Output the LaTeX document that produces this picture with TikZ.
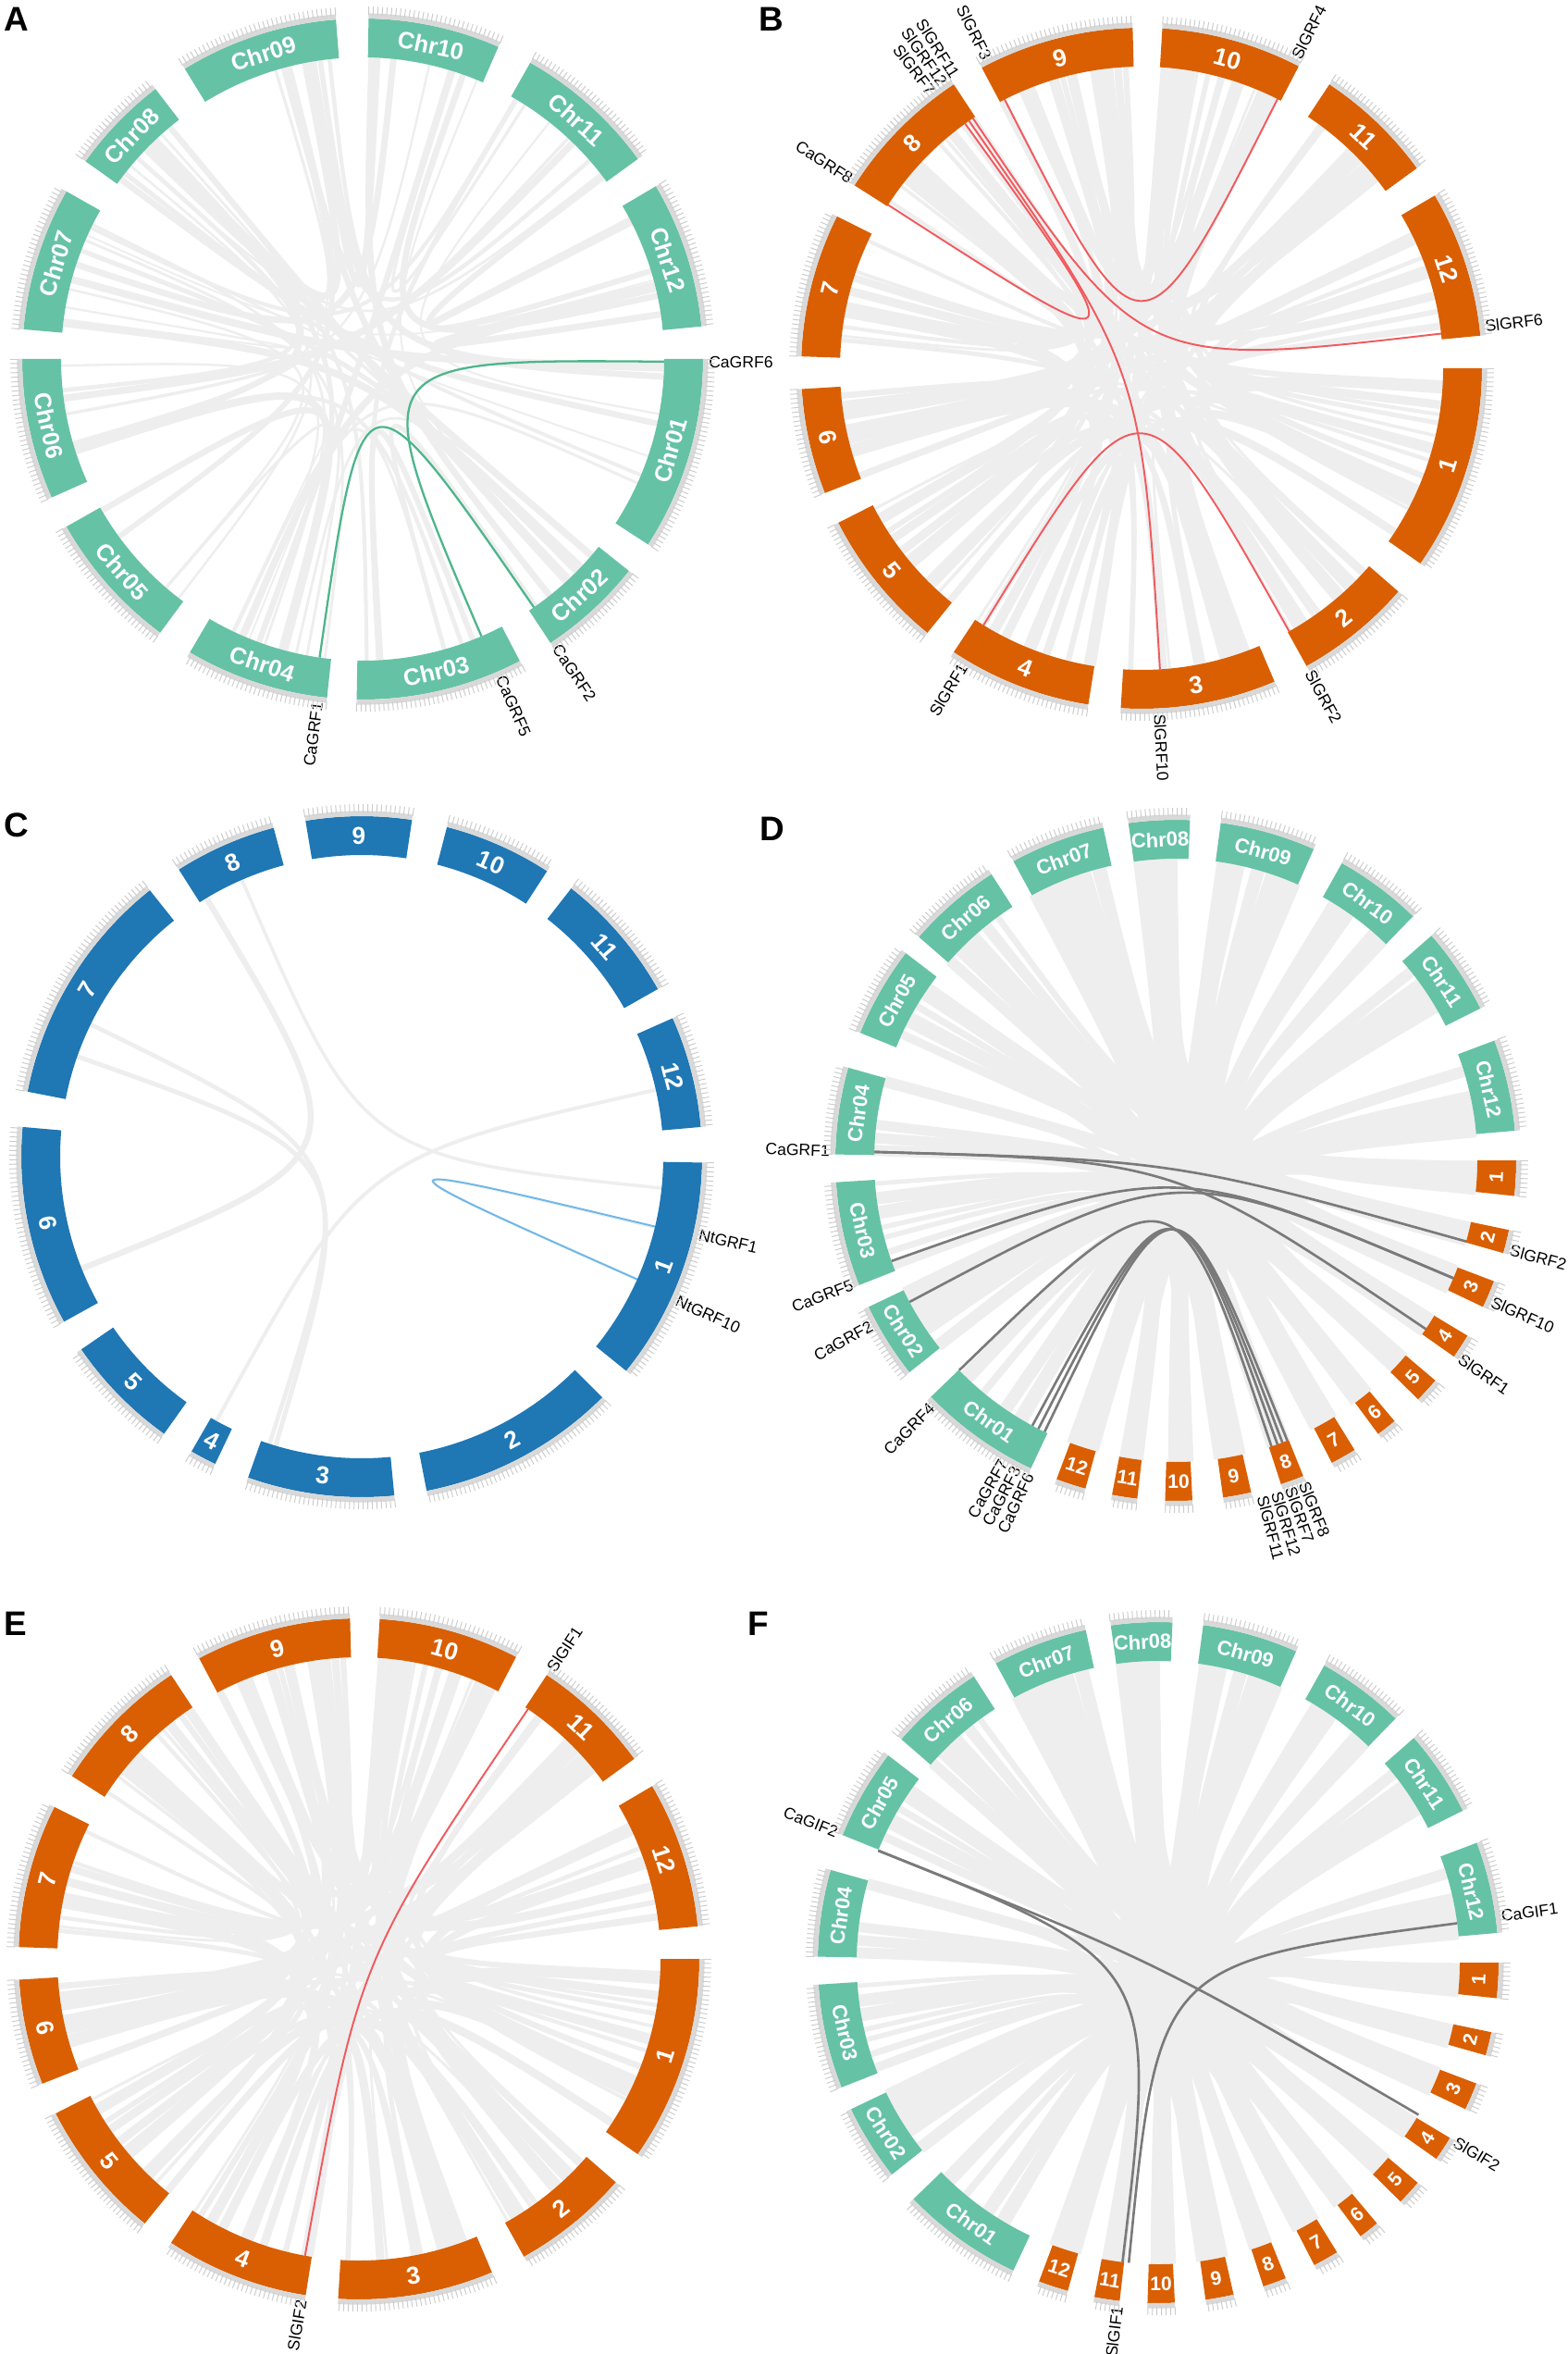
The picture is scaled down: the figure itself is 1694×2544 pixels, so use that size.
\documentclass[tikz,border=0pt]{standalone}
\usepackage{fontspec}
\setmainfont{Liberation Sans}

\definecolor{chrgreen}{HTML}{66C2A5}
\definecolor{chrorange}{HTML}{D95F02}
\definecolor{chrblue}{HTML}{1F77B4}
\definecolor{linkgray}{HTML}{EEEEEE}
\definecolor{tickgray}{HTML}{D9D9D9}
\definecolor{tickdark}{HTML}{CCCCCC}
\definecolor{hlgreen}{HTML}{4DB58C}
\definecolor{hlred}{HTML}{F05A5E}
\definecolor{hlblue}{HTML}{6DB8EA}
\definecolor{hldark}{HTML}{7A7A7A}

\tikzset{
  chrname/.style={text=white,font=\bfseries\fontsize{14.5}{15}\selectfont,inner sep=0pt},
  chrnameS/.style={text=white,font=\bfseries\fontsize{12.5}{13}\selectfont,inner sep=0pt},
  chrnum/.style={text=white,font=\bfseries\fontsize{15}{15}\selectfont,inner sep=0pt},
  chrnumS/.style={text=white,font=\bfseries\fontsize{12}{12}\selectfont,inner sep=0pt},
  genename/.style={font=\fontsize{10}{10}\selectfont,inner sep=0pt},
  panelname/.style={font=\bfseries\fontsize{21}{21}\selectfont,anchor=north west,inner sep=0pt},
  tickband/.style={tickgray,line width=3.2pt},
  tickline/.style={tickdark,line width=0.55pt},
  hlA/.style={hlgreen,line width=1.3pt},
  hlB/.style={hlred,line width=1.1pt},
  hlC/.style={hlblue,line width=1.1pt},
  hlD/.style={hldark,line width=1.5pt},
}

% chromosome band with ticks and name
\newcommand{\chrom}[6]{%
  \fill[#4] (#2:326) arc[start angle=#2,end angle=#3,radius=326] -- (#3:368)
    arc[start angle=#3,end angle=#2,radius=368] -- cycle;
  \draw[tickband] (#2:370.8) arc[start angle=#2,end angle=#3,radius=370.8];
  \pgfmathsetmacro\tkb{#2-0.75}
  \foreach \tk in {#2,\tkb,...,#3} \draw[tickline] (\tk:372) -- (\tk:381);
  \pgfmathsetmacro\chrmid{(#2+#3)/2}
  \pgfmathsetmacro\chrrot{\chrmid<0 ? \chrmid+90 : \chrmid-90}
  \node[#6,rotate=\chrrot] (#1) at (\chrmid:347) {#5};}

% gene: link end + radial label
\newcommand{\gene}[4]{%
  \coordinate (#1) at (#2:326);
  \pgfmathsetmacro\gcos{cos(#3)}
  \ifdim\gcos pt<0pt
    \node[genename,anchor=east,rotate=#3+180] (#1-l) at (#3:374) {#4};
  \else
    \node[genename,anchor=west,rotate=#3] (#1-l) at (#3:374) {#4};
  \fi}

% grey synteny band
\newcommand{\slink}[3]{%
  \draw[linkgray,line width=#3pt] (#1:326) .. controls (0,0) .. (#2:326);}

\newcommand{\randlinks}[7]{%
  \foreach \k in {1,...,#1}{%
    \pgfmathtruncatemacro\ia{random(0,11)}%
    \pgfmathtruncatemacro\ib{random(0,11)}%
    \pgfmathsetmacro\wd{#6+#7*rnd}%
    \pgfmathsetmacro\pa{#3[\ia]+0.4+rnd*(#2[\ia]-#3[\ia]-0.8)}%
    \pgfmathsetmacro\pb{#5[\ib]+0.3+rnd*(#4[\ib]-#5[\ib]-0.6)}%
    \slink{\pa}{\pb}{\wd}}}

\def\As{{0,-38.5,-62.5,-96,-126.5,-156,175,144.5,121.5,89,60.5,30.5}}
\def\Ae{{-33,-56.5,-91,-120.5,-150.5,-180,150.5,127.5,94.5,66.5,36,5.5}}
\def\Ts{{0,-41,-67,-99,-129,-158.5,178,147.5,118,86.5,56.5,30.5}}
\def\Te{{-35,-61,-93.5,-123.5,-153,-176.5,153.5,123.5,91.5,62.5,36,5.5}}
\def\Dos{{0,-11.8,-20.8,-31,-40.3,-50,-58.3,-68,-77.2,-87.2,-96.5,-105.4}}
\def\Doe{{-6,-15.8,-25.5,-35.2,-44.6,-53.5,-62.7,-72,-82,-91.8,-100.8,-110.5}}
\def\Dgs{{-115.2,-141.5,-158.5,179,158,139,118.5,98,82.4,60.8,41.3,20.6}}
\def\Dge{{-136,-154.5,-176.3,164.2,142.5,122.8,102.3,87.6,66.1,45.8,26.5,5}}

\begin{document}
\begin{tikzpicture}[x=0.02cm,y=0.02cm]
\fill[white] (0,0) rectangle (1694,-2544);
\useasboundingbox (0,0) rectangle (1694,-2544);

\node[panelname] (lbl-A) at (4,-8) {A};
\node[panelname] (lbl-B) at (820,-8) {B};
\node[panelname] (lbl-C) at (4,-878) {C};
\node[panelname] (lbl-D) at (821,-883) {D};
\node[panelname] (lbl-E) at (4,-1742) {E};
\node[panelname] (lbl-F) at (808,-1742) {F};

% ---- A: pepper
\begin{scope}[shift={(392,-388)}]
  \pgfmathsetseed{7}
  \randlinks{60}{\As}{\Ae}{\As}{\Ae}{1}{3.5}
  \gene{A-CaGRF6}{-0.5}{-0.5}{CaGRF6}
  \gene{A-CaGRF1}{-98.2}{-97.5}{CaGRF1}
  \gene{A-CaGRF5}{-66.8}{-66.5}{CaGRF5}
  \gene{A-CaGRF2}{-55.4}{-56}{CaGRF2}
  \draw[hlA] (A-CaGRF1) .. controls (0,0) .. (A-CaGRF2);
  \draw[hlA] (A-CaGRF6) .. controls (0,0) .. (A-CaGRF5);
  \foreach \sa/\ea/\lab in {0/-33/Chr01,-38.5/-56.5/Chr02,-62.5/-91/Chr03,-96/-120.5/Chr04,
      -126.5/-150.5/Chr05,-156/-180/Chr06,175/150.5/Chr07,144.5/127.5/Chr08,
      121.5/94.5/Chr09,89/66.5/Chr10,60.5/36/Chr11,30.5/5.5/Chr12}
    {\chrom{A-\lab}{\sa}{\ea}{chrgreen}{\lab}{chrname}}
\end{scope}

% ---- B: tomato GRF
\begin{scope}[shift={(1234,-398)}]
  \pgfmathsetseed{21}
  \randlinks{115}{\Ts}{\Te}{\Ts}{\Te}{1.5}{4}
  \gene{B-SlGRF3}{117}{116.5}{SlGRF3}
  \gene{B-SlGRF4}{63.2}{63.5}{SlGRF4}
  \gene{B-SlGRF11}{124}{122.5}{SlGRF11}
  \gene{B-SlGRF12}{124.9}{124.9}{SlGRF12}
  \gene{B-SlGRF7}{125.8}{127.3}{SlGRF7}
  \gene{B-CaGRF8}{147.2}{147}{CaGRF8}
  \gene{B-SlGRF6}{6.6}{7}{SlGRF6}
  \gene{B-SlGRF10}{-86.5}{-87}{SlGRF10}
  \gene{B-SlGRF1}{-121.6}{-121}{SlGRF1}
  \gene{B-SlGRF2}{-60.7}{-61}{SlGRF2}
  \draw[hlB] (B-SlGRF3) .. controls (0,0) .. (B-SlGRF4);
  \draw[hlB] (B-SlGRF7) .. controls (0,0) .. (B-CaGRF8);
  \draw[hlB] (B-SlGRF11) .. controls (0,0) .. (B-SlGRF6);
  \draw[hlB] (B-SlGRF12) .. controls (0,0) .. (B-SlGRF10);
  \draw[hlB] (B-SlGRF1) .. controls (0,0) .. (B-SlGRF2);
  \foreach \sa/\ea/\lab in {0/-35/1,-41/-61/2,-67/-93.5/3,-99/-123.5/4,-129/-153/5,
      -158.5/-176.5/6,178/153.5/7,147.5/123.5/8,118/91.5/9,86.5/62.5/10,56.5/36/11,30.5/5.5/12}
    {\chrom{B-\lab}{\sa}{\ea}{chrorange}{\lab}{chrnum}}
\end{scope}

% ---- C: tobacco
\begin{scope}[shift={(391,-1250)}]
  \slink{121}{-158.2}{3.6}
  \slink{113.4}{-6}{2}
  \slink{154}{-107.8}{2.6}
  \slink{160.6}{-106.6}{2.8}
  \slink{12.8}{-118.8}{2.2}
  \slink{-24}{-13.6}{1.5}
  \gene{C-NtGRF1}{-13.4}{-13}{NtGRF1}
  \gene{C-NtGRF10}{-24}{-24.5}{NtGRF10}
  \draw[hlC] (C-NtGRF1) .. controls (0,0) .. (C-NtGRF10);
  \foreach \sa/\ea/\lab in {-1/-39/1,-45/-79/2,-84.5/-109.5/3,-115.5/-120/4,-125.5/-145.5/5,
      -151/-185/6,169/128.5/7,122.5/105/8,99.5/81.5/9,75.5/57/10,52/29.5/11,24/5/12}
    {\chrom{C-\lab}{\sa}{\ea}{chrblue}{\lab}{chrnum}}
\end{scope}

% ---- D: pepper vs tomato GRF
\begin{scope}[shift={(1271,-1254)}]
  \pgfmathsetseed{33}
  \randlinks{160}{\Dgs}{\Dge}{\Dos}{\Doe}{2}{6}
  \gene{D-CaGRF1}{178.4}{178.4}{CaGRF1}
  \gene{D-CaGRF5}{-160.5}{-159}{CaGRF5}
  \gene{D-CaGRF2}{-152}{-151.5}{CaGRF2}
  \gene{D-CaGRF4}{-135.9}{-134.8}{CaGRF4}
  \gene{D-CaGRF7}{-118.4}{-119.8}{CaGRF7}
  \gene{D-CaGRF3}{-117.1}{-117.4}{CaGRF3}
  \gene{D-CaGRF6}{-115.8}{-115}{CaGRF6}
  \gene{D-SlGRF2}{-15.6}{-15}{SlGRF2}
  \gene{D-SlGRF10}{-23}{-24}{SlGRF10}
  \gene{D-SlGRF1}{-34}{-34.8}{SlGRF1}
  \gene{D-SlGRF8}{-68.3}{-68.3}{SlGRF8}
  \gene{D-SlGRF7}{-69.3}{-70.7}{SlGRF7}
  \gene{D-SlGRF12}{-70.3}{-73.1}{SlGRF12}
  \gene{D-SlGRF11}{-71.5}{-75.5}{SlGRF11}
  \draw[hlD] (D-CaGRF1) .. controls (0,0) .. (D-SlGRF2);
  \draw[hlD] (D-CaGRF1) .. controls (0,0) .. (D-SlGRF1);
  \draw[hlD] (D-CaGRF5) .. controls (0,0) .. (D-SlGRF10);
  \draw[hlD] (D-CaGRF2) .. controls (0,0) .. (D-SlGRF10);
  \draw[hlD] (D-CaGRF4) .. controls (0,0) .. (D-SlGRF11);
  \draw[hlD] (D-CaGRF7) .. controls (0,0) .. (D-SlGRF12);
  \draw[hlD] (D-CaGRF3) .. controls (0,0) .. (D-SlGRF7);
  \draw[hlD] (D-CaGRF6) .. controls (0,0) .. (D-SlGRF8);
  \foreach \sa/\ea/\lab in {0/-6/1,-11.8/-15.8/2,-20.8/-25.5/3,-31/-35.2/4,-40.3/-44.6/5,
      -50/-53.5/6,-58.3/-62.7/7,-68/-72/8,-77.2/-82/9,-87.2/-91.8/10,-96.5/-100.8/11,-105.4/-110.5/12}
    {\chrom{D-\lab}{\sa}{\ea}{chrorange}{\lab}{chrnumS}}
  \foreach \sa/\ea/\lab in {-115.2/-136/Chr01,-141.5/-154.5/Chr02,-158.5/-176.3/Chr03,
      179/164.2/Chr04,158/142.5/Chr05,139/122.8/Chr06,118.5/102.3/Chr07,98/87.6/Chr08,
      82.4/66.1/Chr09,60.8/45.8/Chr10,41.3/26.5/Chr11,20.6/5/Chr12}
    {\chrom{D-\lab}{\sa}{\ea}{chrgreen}{\lab}{chrnameS}}
\end{scope}

% ---- E: tomato GIF
\begin{scope}[shift={(388,-2117)}]
  \pgfmathsetseed{21}
  \randlinks{115}{\Ts}{\Te}{\Ts}{\Te}{1.5}{4}
  \gene{E-SlGIF1}{55.9}{56.4}{SlGIF1}
  \gene{E-SlGIF2}{-100.3}{-99.6}{SlGIF2}
  \draw[hlB] (E-SlGIF1) .. controls (0,0) .. (E-SlGIF2);
  \foreach \sa/\ea/\lab in {0/-35/1,-41/-61/2,-67/-93.5/3,-99/-123.5/4,-129/-153/5,
      -158.5/-176.5/6,178/153.5/7,147.5/123.5/8,118/91.5/9,86.5/62.5/10,56.5/36/11,30.5/5.5/12}
    {\chrom{E-\lab}{\sa}{\ea}{chrorange}{\lab}{chrnum}}
\end{scope}

% ---- F: pepper vs tomato GIF
\begin{scope}[shift={(1252,-2121)}]
  \pgfmathsetseed{33}
  \randlinks{160}{\Dgs}{\Dge}{\Dos}{\Doe}{2}{6}
  \gene{F-CaGIF2}{158.2}{158}{CaGIF2}
  \gene{F-CaGIF1}{7.5}{7.7}{CaGIF1}
  \gene{F-SlGIF2}{-30.3}{-31}{SlGIF2}
  \gene{F-SlGIF1}{-96.8}{-96.8}{SlGIF1}
  \coordinate (F-SlGIF1b) at (-95.6:326);
  \draw[hlD] (F-CaGIF2) .. controls (0,0) .. (F-SlGIF2);
  \draw[hlD] (F-CaGIF2) .. controls (0,0) .. (F-SlGIF1);
  \draw[hlD] (F-CaGIF1) .. controls (0,0) .. (F-SlGIF1b);
  \foreach \sa/\ea/\lab in {0/-6/1,-11.8/-15.8/2,-20.8/-25.5/3,-31/-35.2/4,-40.3/-44.6/5,
      -50/-53.5/6,-58.3/-62.7/7,-68/-72/8,-77.2/-82/9,-87.2/-91.8/10,-96.5/-100.8/11,-105.4/-110.5/12}
    {\chrom{F-\lab}{\sa}{\ea}{chrorange}{\lab}{chrnumS}}
  \foreach \sa/\ea/\lab in {-115.2/-136/Chr01,-141.5/-154.5/Chr02,-158.5/-176.3/Chr03,
      179/164.2/Chr04,158/142.5/Chr05,139/122.8/Chr06,118.5/102.3/Chr07,98/87.6/Chr08,
      82.4/66.1/Chr09,60.8/45.8/Chr10,41.3/26.5/Chr11,20.6/5/Chr12}
    {\chrom{F-\lab}{\sa}{\ea}{chrgreen}{\lab}{chrnameS}}
\end{scope}
\end{tikzpicture}
\end{document}
